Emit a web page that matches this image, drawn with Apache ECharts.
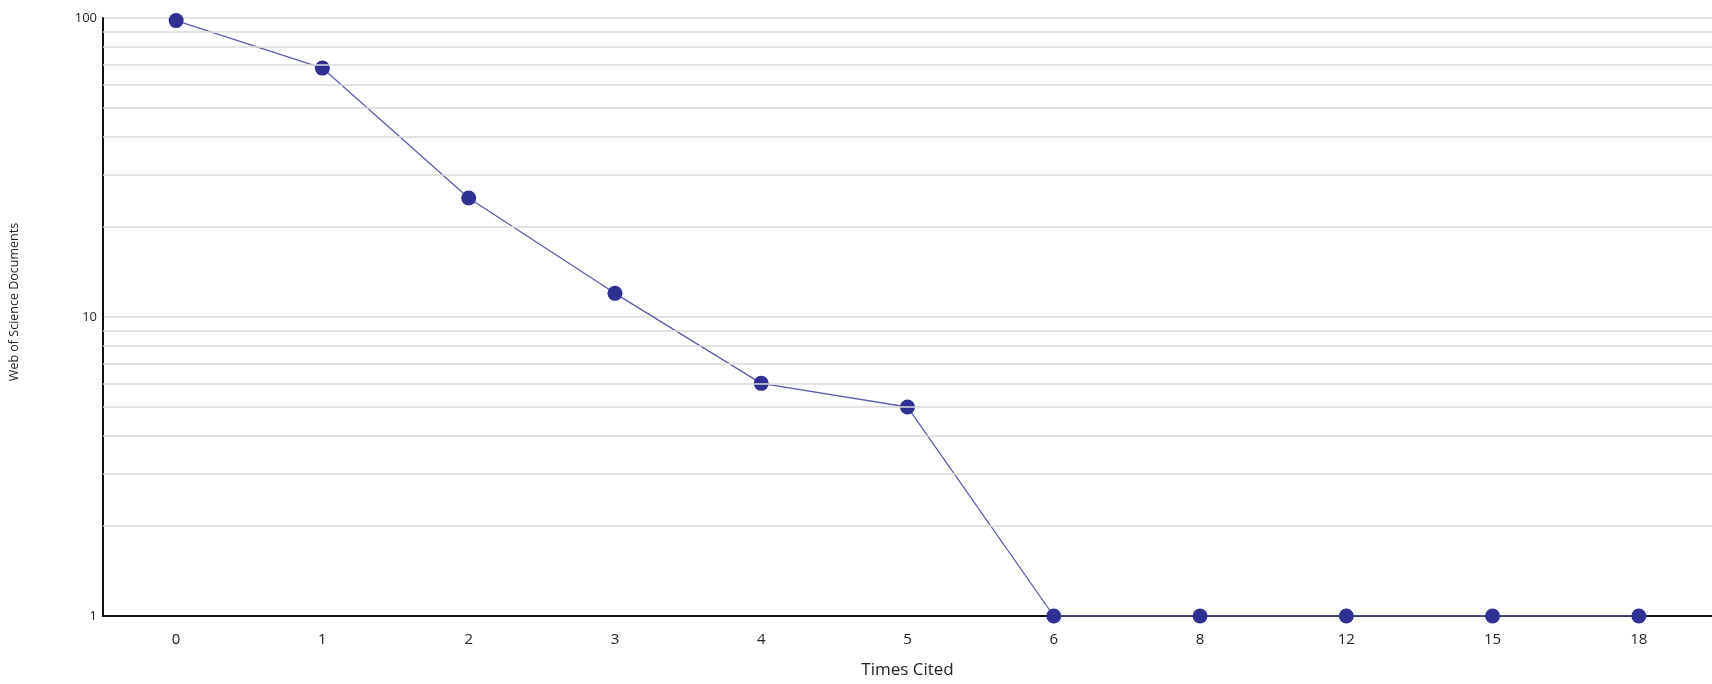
<!DOCTYPE html>
<html>
<head>
<meta charset="utf-8">
<script src="https://cdn.jsdelivr.net/npm/echarts@6/dist/echarts.min.js"></script>
<style>
  html, body { margin: 0; padding: 0; background: #ffffff; }
  #chart { width: 1712px; height: 684px; }
</style>
</head>
<body>
<div id="chart"></div>
<script>
// ---- data ----
const categories = ['0', '1', '2', '3', '4', '5', '6', '8', '12', '15', '18'];
const documents = [98, 68, 25, 12, 6, 5, 1, 1, 1, 1, 1];
const minorGridValues = [2, 3, 4, 5, 6, 7, 8, 9, 20, 30, 40, 50, 60, 70, 80, 90];
const xAxisTitle = 'Times Cited';
const yAxisTitle = 'Web of Science Documents';

const chart = echarts.init(document.getElementById('chart'), null, { renderer: 'canvas' });
const FONT = 'Open Sans';

chart.setOption({
  backgroundColor: '#ffffff',
  animation: false,
  grid: { left: 103, right: 0, top: 18, bottom: 65, containLabel: false },
  xAxis: {
    type: 'category',
    data: categories,
    boundaryGap: true,
    name: xAxisTitle,
    nameLocation: 'middle',
    nameGap: 46,
    nameTextStyle: { fontFamily: FONT, fontSize: 17, color: '#222' },
    axisLine: { show: true, lineStyle: { color: '#111', width: 2 } },
    axisTick: { show: false },
    axisLabel: { fontFamily: FONT, fontSize: 15, color: '#222', margin: 16 },
    splitLine: { show: false }
  },
  yAxis: {
    type: 'log',
    logBase: 10,
    min: 1,
    max: 100,
    splitNumber: 2,
    name: yAxisTitle,
    nameLocation: 'middle',
    nameGap: 82,
    nameRotate: 90,
    nameTextStyle: { fontFamily: FONT, fontSize: 12.5, color: '#222', padding: [0, 0, 0, 30] },
    axisLine: { show: true, lineStyle: { color: '#111', width: 2 } },
    axisTick: { show: false },
    axisLabel: { fontFamily: FONT, fontSize: 13, color: '#222', margin: 6 },
    splitLine: { show: true, lineStyle: { color: '#d9d9d9', width: 1.5 } }
  },
  series: [
    {
      name: 'grid',
      type: 'line',
      data: [],
      silent: true,
      z: 1,
      markLine: {
        silent: true,
        symbol: 'none',
        label: { show: false },
        lineStyle: { color: '#d9d9d9', width: 1.5, type: 'solid' },
        data: minorGridValues.map(v => ({ yAxis: v }))
      }
    },
    {
      name: yAxisTitle,
      type: 'line',
      data: documents,
      z: 3,
      symbol: 'circle',
      symbolSize: 15,
      itemStyle: { color: '#2e3192' },
      lineStyle: { color: '#5b5ea8', width: 1.3 }
    }
  ]
});
</script>
</body>
</html>
